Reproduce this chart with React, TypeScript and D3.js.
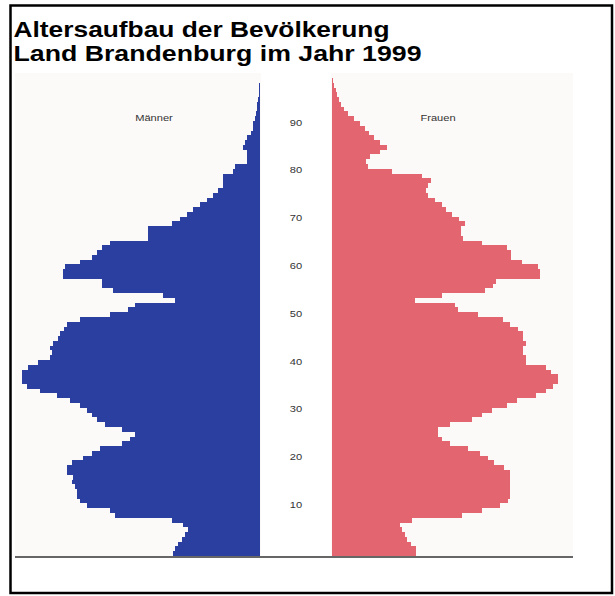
import React from "react";
import * as d3 from "d3";

// Altersaufbau Land Brandenburg 1999 – Bevölkerung je Altersjahr (in Tausend)
const ages: number[] = d3.range(0, 100);

const maenner: number[] = [
  8.7, 8.5, 8.2, 7.8, 7.5, 7.2, 7.7, 8.8, 14.5, 15.0,
  17.3, 18.0, 18.3, 18.3, 18.5, 18.8, 18.7, 19.3, 19.3, 18.8,
  17.7, 16.8, 16.0, 13.8, 13.0, 12.5, 13.8, 15.5, 16.3, 16.8,
  17.3, 18.0, 19.0, 20.3, 22.0, 23.3, 23.8, 23.8, 23.8, 23.2,
  22.2, 21.0, 20.8, 21.0, 20.7, 20.2, 20.0, 19.6, 19.3, 18.0,
  15.0, 13.2, 12.5, 8.5, 9.7, 14.7, 15.8, 15.8, 19.7, 19.7,
  19.5, 18.0, 16.8, 16.3, 15.8, 15.0, 11.2, 11.2, 11.2, 8.8,
  8.0, 7.3, 6.7, 6.0, 5.3, 4.7, 4.2, 3.7, 3.7, 3.7,
  2.7, 2.5, 1.3, 1.3, 1.3, 1.7, 1.5, 1.3, 0.9, 0.75,
  0.67, 0.55, 0.4, 0.33, 0.27, 0.2, 0.15, 0.1, 0.1, 0.05,
];

const frauen: number[] = [
  8.4, 8.4, 7.9, 7.5, 7.3, 7.0, 6.8, 8.0, 13.0, 15.0,
  16.8, 17.6, 17.8, 17.8, 17.8, 17.8, 17.8, 17.8, 17.2, 16.2,
  15.6, 14.8, 13.6, 11.8, 11.0, 10.6, 10.6, 11.8, 14.0, 15.0,
  16.0, 17.5, 18.5, 20.4, 21.4, 22.1, 22.6, 22.6, 21.9, 21.4,
  19.4, 19.4, 19.1, 19.1, 19.4, 19.1, 19.1, 18.6, 17.8, 17.1,
  14.6, 12.6, 12.3, 8.3, 11.0, 15.3, 16.1, 16.4, 20.8, 20.8,
  20.6, 19.0, 17.9, 17.9, 17.5, 15.0, 13.1, 12.9, 12.9, 13.3,
  12.7, 12.0, 11.4, 11.0, 10.3, 9.6, 9.4, 9.6, 9.9, 9.0,
  6.0, 3.6, 3.4, 3.8, 4.8, 5.5, 4.8, 4.2, 3.7, 3.3,
  2.8, 2.2, 1.6, 1.2, 0.9, 0.7, 0.5, 0.4, 0.2, 0.1,
];

const ageTicks: number[] = [10, 20, 30, 40, 50, 60, 70, 80, 90];
const titleLines: string[] = ["Altersaufbau der Bevölkerung", "Land Brandenburg im Jahr 1999"];
const sexLabels: string[] = ["Männer", "Frauen"];

const W = 615;
const H = 596;
const BASE = 556;
const STEP = 4.78;
const BLUE = "#2a3f9f";
const PINK = "#e3656f";

export default function App() {
  const y = d3
    .scaleBand<number>()
    .domain(ages)
    .range([BASE, BASE - ages.length * STEP])
    .paddingInner(0)
    .paddingOuter(0);
  const xM = d3.scaleLinear().domain([0, 25]).range([260, 10]);
  const xF = d3.scaleLinear().domain([0, 25]).range([332, 582]);
  const bw = y.bandwidth();
  const font = "'Liberation Sans', Arial, Helvetica, sans-serif";
  const sx = 1.17;

  return (
    <svg
      width={W}
      height={H}
      viewBox={`0 0 ${W} ${H}`}
      style={{ position: "absolute", left: 0, top: 0, background: "#fff" }}
    >
      <rect x={0} y={0} width={W} height={H} fill="#fff" />
      {/* chart background */}
      <rect x={15} y={73} width={558} height={BASE - 73} fill="#fcfaf8" />
      <rect x={261} y={73} width={70} height={BASE - 73} fill="#ffffff" />

      <g shapeRendering="crispEdges">
        {ages.map((a, i) => (
          <rect
            key={"m" + a}
            x={xM(maenner[i])}
            y={y(a)}
            width={xM(0) - xM(maenner[i])}
            height={bw + 0.01}
            fill={BLUE}
          />
        ))}
        {ages.map((a, i) => (
          <rect
            key={"f" + a}
            x={xF(0)}
            y={y(a)}
            width={xF(frauen[i]) - xF(0)}
            height={bw + 0.01}
            fill={PINK}
          />
        ))}
      </g>

      {/* baseline */}
      <line x1={15} x2={573} y1={BASE + 1} y2={BASE + 1} stroke="#333" strokeWidth={1.6} />

      {/* age labels */}
      {ageTicks.map((t) => (
        <text
          key={t}
          transform={`translate(296,${(y(t) as number) + bw / 2 - 1}) scale(${sx},1)`}
          textAnchor="middle"
          dominantBaseline="central"
          fontFamily={font}
          fontSize={9.5}
          fill="#333"
        >
          {t}
        </text>
      ))}

      {/* sex labels */}
      <text
        transform={`translate(154,118) scale(${sx},1)`}
        textAnchor="middle"
        dominantBaseline="central"
        fontFamily={font}
        fontSize={9.5}
        fill="#333"
      >
        {sexLabels[0]}
      </text>
      <text
        transform={`translate(438,118) scale(${sx},1)`}
        textAnchor="middle"
        dominantBaseline="central"
        fontFamily={font}
        fontSize={9.5}
        fill="#333"
      >
        {sexLabels[1]}
      </text>

      {/* title */}
      <text
        x={13.5}
        y={36.7}
        fontFamily={font}
        fontWeight="bold"
        fontSize={22.5}
        textLength={376}
        lengthAdjust="spacingAndGlyphs"
        fill="#000"
      >
        {titleLines[0]}
      </text>
      <text
        x={13.5}
        y={60.7}
        fontFamily={font}
        fontWeight="bold"
        fontSize={22.5}
        textLength={408}
        lengthAdjust="spacingAndGlyphs"
        fill="#000"
      >
        {titleLines[1]}
      </text>

      {/* frame */}
      <rect x={10.5} y={5.5} width={601.5} height={587.5} fill="none" stroke="#000" strokeWidth={2.5} />
    </svg>
  );
}
